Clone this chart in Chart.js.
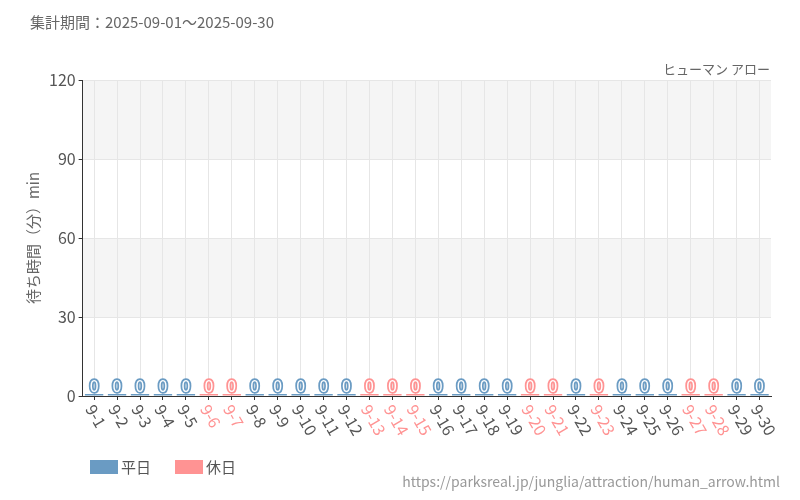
<!DOCTYPE html><html><head><meta charset="utf-8">
<script src="https://cdn.jsdelivr.net/npm/chart.js@4"></script>
<style>body{margin:0;background:#fff}#w{width:800px;height:500px;position:relative}</style></head><body>
<div id="w"><canvas id="c" width="800" height="500"></canvas></div>
<script>
const days=[];for(let d=1;d<=30;d++)days.push('9-'+d);
const holidays=['9-6','9-7','9-13','9-14','9-15','9-20','9-21','9-23','9-27','9-28'];
const waits=[0,0,0,0,0,0,0,0,0,0,0,0,0,0,0,0,0,0,0,0,0,0,0,0,0,0,0,0,0,0];
const yTicks=[0,30,60,90,120];
const BLUE='#6a9bc3',RED='#ff9393';
const cols=days.map(d=>holidays.includes(d)?RED:BLUE);
const F="'Noto Sans CJK JP','Noto Sans',sans-serif";
const deco={id:'deco',beforeDraw(ch){const {ctx,chartArea:a,scales:{y}}=ch;ctx.save();ctx.fillStyle='#f5f5f5';
[[90,120],[30,60]].forEach(([l,h])=>{ctx.fillRect(a.left,y.getPixelForValue(h),a.right-a.left,y.getPixelForValue(l)-y.getPixelForValue(h));});ctx.restore();},
afterDraw(ch){const {ctx,chartArea:a,scales:{x}}=ch;ctx.save();ctx.font="15px "+F;ctx.fillStyle='#666';ctx.textBaseline='middle';
ctx.fillText('集計期間：2025-09-01～2025-09-30',30,22);ctx.textAlign='right';ctx.font="13px "+F;ctx.fillText('ヒューマン アロー',770,69);
ctx.font="14px "+F;ctx.fillStyle='#999';ctx.fillText('https://parksreal.jp/junglia/attraction/human_arrow.html',780,482);
ctx.textAlign='left';ctx.font="15px "+F;
ctx.fillStyle=BLUE;ctx.fillRect(90,460,28,14);ctx.fillStyle='#555';ctx.fillText('平日',121,467);
ctx.fillStyle=RED;ctx.fillRect(175,460,28,14);ctx.fillStyle='#555';ctx.fillText('休日',206,467);
ctx.font="16px "+F;ctx.textBaseline='middle';
days.forEach((d,i)=>{const px=x.getPixelForValue(i);ctx.save();ctx.translate(px-4,a.bottom+10);ctx.rotate(Math.PI/3);
ctx.fillStyle=holidays.includes(d)?RED:'#555';ctx.fillText(d,0,0);ctx.restore();});
const m=ch.getDatasetMeta(0);ctx.font="16px "+F;ctx.textAlign='center';ctx.textBaseline='bottom';ctx.lineWidth=3;ctx.strokeStyle=cols[0];
m.data.forEach((b,i)=>{ctx.lineWidth=3.5;ctx.strokeStyle=cols[i];ctx.strokeText(String(waits[i]),b.x,b.y);ctx.fillStyle='#fff';ctx.fillText(String(waits[i]),b.x,b.y);});
ctx.restore();}};
new Chart(document.getElementById('c'),{type:'bar',data:{labels:days,datasets:[{data:waits,backgroundColor:cols,minBarLength:2,barPercentage:0.8,categoryPercentage:1}]},
options:{responsive:false,animation:false,layout:{padding:{left:20,right:29,top:80,bottom:100}},
plugins:{legend:{display:false},tooltip:{enabled:false}},
scales:{x:{grid:{color:'#e6e6e6',offset:false,drawTicks:true,tickColor:'#333',tickLength:4},border:{color:'#333'},
ticks:{display:false}},
y:{min:0,max:120,afterBuildTicks:s=>{s.ticks=yTicks.map(v=>({value:v}));},grid:{color:'#e6e6e6',tickColor:'#333',tickLength:4},border:{color:'#333'},
ticks:{font:{size:16,family:F},color:'#555'},title:{display:true,text:'待ち時間（分）min',font:{size:15,family:F},color:'#666'}}}},
plugins:[deco]});
</script></body></html>
